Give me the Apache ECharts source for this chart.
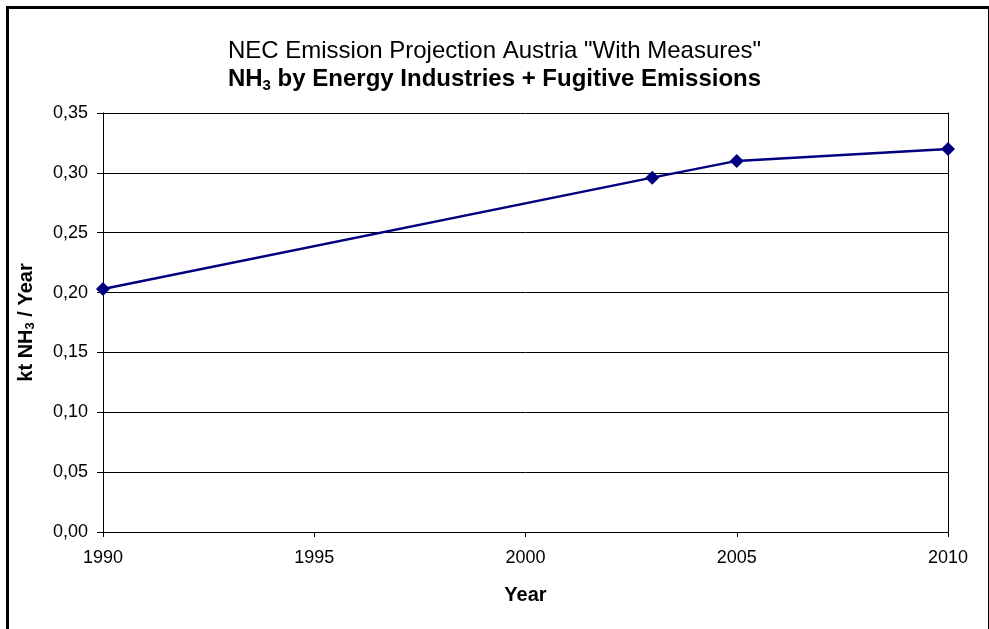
<!DOCTYPE html>
<html>
<head>
<meta charset="utf-8">
<script src="https://cdn.jsdelivr.net/npm/echarts@6/dist/echarts.min.js"></script>
<style>
html,body{margin:0;padding:0;background:#fff;}
#chart{width:989px;height:629px;}
</style>
</head>
<body>
<div id="chart"></div>
<script>
var years = [1990, 2003, 2005, 2010];
var values = [0.203, 0.296, 0.310, 0.320];
var xTicks = [1990, 1995, 2000, 2005, 2010];
var yTicks = [0, 0.05, 0.10, 0.15, 0.20, 0.25, 0.30, 0.35];

var chart = echarts.init(document.getElementById('chart'), null, {renderer: 'canvas'});
var FONT = '"Liberation Sans", Arial, sans-serif';
var option = {
  backgroundColor: '#ffffff',
  animation: false,
  graphic: [{
    type: 'rect',
    left: 5, top: 5,
    shape: {width: 982, height: 640},
    style: {fill: 'none', stroke: '#000', lineWidth: 3},
    silent: true
  }],
  title: {
    text: 'NEC Emission Projection Austria "With Measures"\n{b|NH}{s|3}{b| by Energy Industries + Fugitive Emissions}',
    left: 'center',
    top: 32,
    textStyle: {
      fontFamily: FONT, fontSize: 24, fontWeight: 'normal', color: '#000', lineHeight: 28,
      rich: {
        b: {fontFamily: FONT, fontSize: 24, fontWeight: 'bold', color: '#000', lineHeight: 28},
        s: {fontFamily: FONT, fontSize: 15, fontWeight: 'bold', color: '#000', verticalAlign: 'bottom', lineHeight: 28, padding: [10, 0, 0, 0]}
      }
    }
  },
  grid: {left: 103, right: 41, top: 113, bottom: 97, containLabel: false},
  xAxis: {
    type: 'value',
    min: 1990, max: 2010, interval: 5,
    name: 'Year',
    nameLocation: 'middle',
    nameGap: 53,
    nameTextStyle: {fontFamily: FONT, fontSize: 20, fontWeight: 'bold', color: '#000'},
    axisLine: {show: true, lineStyle: {color: '#000', width: 1}},
    axisTick: {show: true, length: 5, inside: false, lineStyle: {color: '#000'}},
    axisLabel: {fontFamily: FONT, fontSize: 18, color: '#000', margin: 17, formatter: function(v){return String(v);}},
    splitLine: {show: false}
  },
  yAxis: [{
    type: 'value',
    min: 0, max: 0.35, interval: 0.05,
    name: '{n|kt NH}{s|3}{n| / Year}',
    nameLocation: 'middle',
    nameGap: 66,
    nameRotate: 90,
    nameTextStyle: {
      fontFamily: FONT, fontSize: 20, fontWeight: 'bold', color: '#000',
      rich: {
        n: {fontFamily: FONT, fontSize: 20, fontWeight: 'bold', color: '#000', lineHeight: 22},
        s: {fontFamily: FONT, fontSize: 13, fontWeight: 'bold', color: '#000', lineHeight: 22, verticalAlign: 'bottom', padding: [8, 0, 0, 0]}
      }
    },
    axisLine: {show: true, lineStyle: {color: '#000', width: 1}},
    axisTick: {show: true, length: 6, inside: false, lineStyle: {color: '#000'}},
    axisLabel: {fontFamily: FONT, fontSize: 18, color: '#000', margin: 15,
      formatter: function(v){return v.toFixed(2).replace('.', ',');}},
    splitLine: {show: true, lineStyle: {color: '#000', width: 1}}
  }, {
    type: 'value',
    min: 0, max: 0.35, interval: 0.05,
    position: 'right',
    axisLine: {show: true, lineStyle: {color: '#000', width: 1}},
    axisTick: {show: false},
    axisLabel: {show: false},
    splitLine: {show: false}
  }],
  series: [{
    type: 'line',
    data: years.map(function(y, i){ return [y, values[i]]; }),
    symbol: 'diamond',
    symbolSize: 14,
    itemStyle: {color: '#000080'},
    lineStyle: {color: '#000080', width: 2.5},
    clip: false
  }]
};
chart.setOption(option);
</script>
</body>
</html>
